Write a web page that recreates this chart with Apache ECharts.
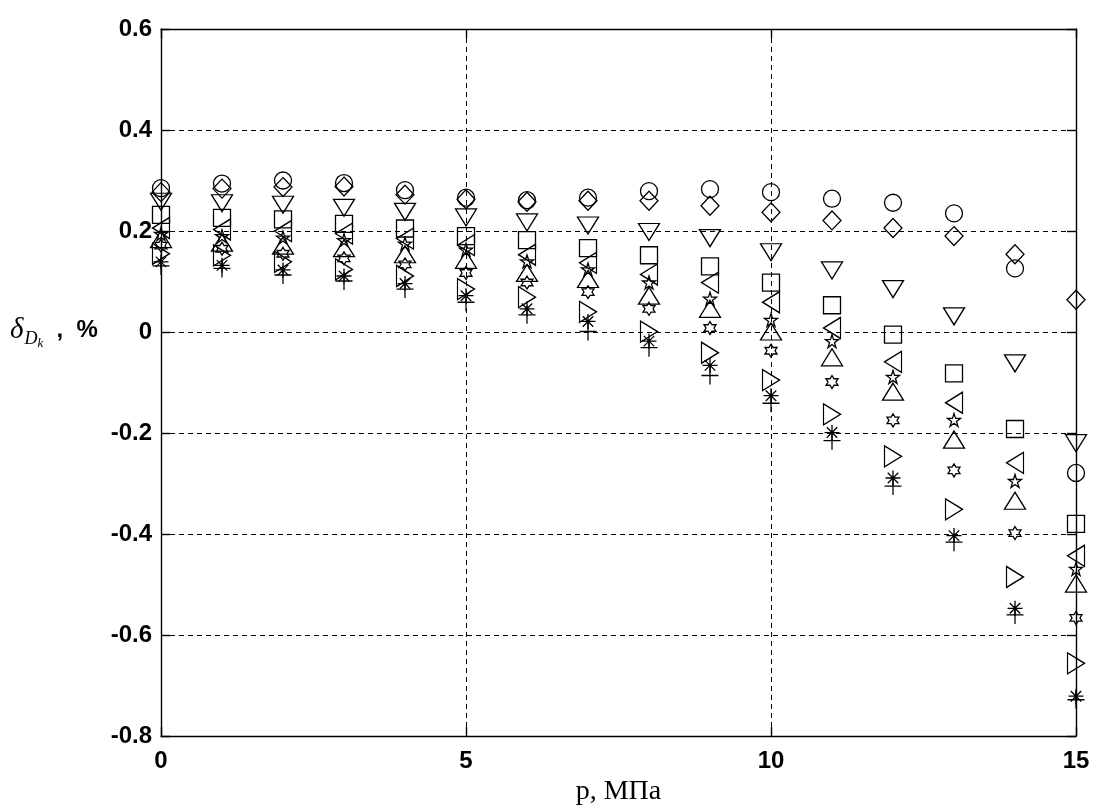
<!DOCTYPE html>
<html>
<head>
<meta charset="utf-8">
<title>δDk vs p</title>
<script src="https://cdn.jsdelivr.net/npm/echarts@6/dist/echarts.min.js"></script>
<style>
    html, body { margin: 0; padding: 0; background: #fff; }
    #chart { width: 1094px; height: 811px; }
</style>
</head>
<body>
<div id="chart"></div>
<script>
// Pressure, MPa
const pressure = [0, 1, 2, 3, 4, 5, 6, 7, 8, 9, 10, 11, 12, 13, 14, 15];

// Relative error, %, one array per marker
const circleVals   = [0.285, 0.294, 0.300, 0.295, 0.281, 0.266, 0.261, 0.266, 0.279, 0.283, 0.277, 0.264, 0.256, 0.235, 0.126, -0.279];
const diamondVals  = [0.277, 0.284, 0.287, 0.288, 0.272, 0.263, 0.258, 0.260, 0.260, 0.250, 0.237, 0.221, 0.206, 0.190, 0.154, 0.064];
const downTriVals  = [0.258, 0.255, 0.252, 0.246, 0.238, 0.227, 0.217, 0.211, 0.198, 0.186, 0.158, 0.122, 0.085, 0.031, -0.062, -0.220];
const squareVals   = [0.232, 0.226, 0.223, 0.214, 0.205, 0.190, 0.182, 0.166, 0.152, 0.130, 0.098, 0.053, -0.005, -0.082, -0.192, -0.380];
const leftTriVals  = [0.206, 0.203, 0.200, 0.195, 0.185, 0.172, 0.153, 0.137, 0.114, 0.098, 0.059, 0.008, -0.059, -0.140, -0.259, -0.443];
const pentaVals    = [0.194, 0.190, 0.187, 0.182, 0.175, 0.163, 0.140, 0.124, 0.098, 0.066, 0.024, -0.018, -0.089, -0.174, -0.295, -0.469];
const upTriVals    = [0.184, 0.177, 0.171, 0.166, 0.154, 0.143, 0.117, 0.105, 0.072, 0.046, 0.001, -0.050, -0.118, -0.213, -0.334, -0.498];
const hexaVals     = [0.171, 0.165, 0.155, 0.146, 0.134, 0.117, 0.098, 0.079, 0.046, 0.008, -0.037, -0.099, -0.175, -0.274, -0.398, -0.566];
const rightTriVals = [0.155, 0.152, 0.139, 0.124, 0.111, 0.085, 0.069, 0.040, 0.001, -0.041, -0.095, -0.163, -0.246, -0.351, -0.485, -0.656];
const asteriskVals = [0.139, 0.132, 0.123, 0.111, 0.096, 0.072, 0.046, 0.021, -0.018, -0.066, -0.126, -0.199, -0.289, -0.403, -0.547, -0.721];
const plusVals     = [0.131, 0.126, 0.113, 0.101, 0.085, 0.059, 0.034, 0.001, -0.031, -0.086, -0.141, -0.215, -0.305, -0.416, -0.560, -0.728];

const xTicks = [0, 5, 10, 15];
const yTicks = [-0.8, -0.6, -0.4, -0.2, 0, 0.2, 0.4, 0.6];

// Marker shapes (MATLAB style, hollow)
const markers = [
    { vals: circleVals,   symbol: 'circle',  size: 17 },
    { vals: diamondVals,  symbol: 'diamond', size: [18, 19] },
    { vals: downTriVals,  symbol: 'path://M0,0 L22,0 L11,17 Z', size: [21, 17] },
    { vals: squareVals,   symbol: 'rect',    size: 17 },
    { vals: leftTriVals,  symbol: 'path://M17,0 L17,22 L0,11 Z', size: [17, 21] },
    { vals: pentaVals,    symbol: 'path://M10,0 L12.245,6.91 L19.51,6.91 L13.63,11.18 L15.88,18.09 L10,13.82 L4.12,18.09 L6.37,11.18 L0.49,6.91 L7.755,6.91 Z', size: 13 },
    { vals: upTriVals,    symbol: 'path://M11,0 L22,17 L0,17 Z', size: [21, 17] },
    { vals: hexaVals,     symbol: 'path://M10,0 L12.887,5 L18.66,5 L15.77,10 L18.66,15 L12.887,15 L10,20 L7.113,15 L1.34,15 L4.23,10 L1.34,5 L7.113,5 Z', size: [12, 13] },
    { vals: rightTriVals, symbol: 'path://M0,0 L17,11 L0,22 Z', size: [17, 21] },
    { vals: asteriskVals, symbol: 'path://M10,0 L10,20 M0,10 L20,10 M3,3 L17,17 M17,3 L3,17', size: 15 },
    { vals: plusVals,     symbol: 'path://M10,0 L10,20 M0,10 L20,10', size: [17, 18] }
];

const chart = echarts.init(document.getElementById('chart'));

const tickFont = {
    fontFamily: 'Liberation Sans, Arial, sans-serif',
    fontSize: 24,
    fontWeight: 'bold',
    color: '#000'
};

const axisBase = {
    axisLine: { show: true, onZero: false, lineStyle: { color: '#000', width: 1.4 } },
    axisTick: { show: true, inside: true, length: 9, lineStyle: { color: '#000', width: 1.4 } }
};

const option = {
    backgroundColor: '#fff',
    animation: false,
    grid: { left: 161, top: 29, right: 18, bottom: 66 },
    xAxis: [
        Object.assign({}, axisBase, {
            type: 'value',
            min: 0,
            max: 15,
            interval: 5,
            axisLabel: Object.assign({ margin: 13 }, tickFont),
            splitLine: { show: true, lineStyle: { color: '#000', type: [5, 4], width: 1 } },
            name: 'p, МПа',
            nameLocation: 'middle',
            nameGap: 41,
            nameTextStyle: { fontFamily: 'Liberation Serif, Times New Roman, serif', fontSize: 28, color: '#000' }
        }),
        Object.assign({}, axisBase, {
            type: 'value', position: 'top', min: 0, max: 15, interval: 5,
            axisLabel: { show: false }, splitLine: { show: false }
        })
    ],
    yAxis: [
        Object.assign({}, axisBase, {
            type: 'value',
            min: -0.8,
            max: 0.6,
            interval: 0.2,
            axisLabel: Object.assign({
                margin: 9,
                formatter: function (v) {
                    const r = Math.round(v * 10) / 10;
                    return r === 0 ? '0' : r.toFixed(1);
                }
            }, tickFont),
            splitLine: { show: true, lineStyle: { color: '#000', type: [5, 4], width: 1 } }
        }),
        Object.assign({}, axisBase, {
            type: 'value', position: 'right', min: -0.8, max: 0.6, interval: 0.2,
            axisLabel: { show: false }, splitLine: { show: false }
        })
    ],
    graphic: [{
        type: 'text',
        left: 10,
        top: 316,
        style: {
            text: '{d|δ}{s|D}{k|k}{p|  ,  %}',
            rich: {
                d: { fontFamily: 'Liberation Serif, serif', fontStyle: 'italic', fontSize: 29, fill: '#000' },
                s: { fontFamily: 'Liberation Serif, serif', fontStyle: 'italic', fontSize: 18, fill: '#000', padding: [17, 0, 0, 1] },
                k: { fontFamily: 'Liberation Serif, serif', fontStyle: 'italic', fontSize: 13, fill: '#000', padding: [26, 0, 0, 0] },
                p: { fontFamily: 'Liberation Sans, Arial, sans-serif', fontWeight: 'bold', fontSize: 24, fill: '#000' }
            }
        }
    }],
    series: markers.map(function (m) {
        return {
            type: 'scatter',
            symbol: m.symbol,
            symbolSize: m.size,
            data: pressure.map(function (p, i) { return [p, m.vals[i]]; }),
            itemStyle: { color: 'rgba(0,0,0,0)', borderColor: '#000', borderWidth: 1.3, opacity: 1 },
            emphasis: { disabled: true },
            clip: false
        };
    })
};

chart.setOption(option);

window.addEventListener('resize', function () {
    chart.resize();
});
</script>
</body>
</html>
